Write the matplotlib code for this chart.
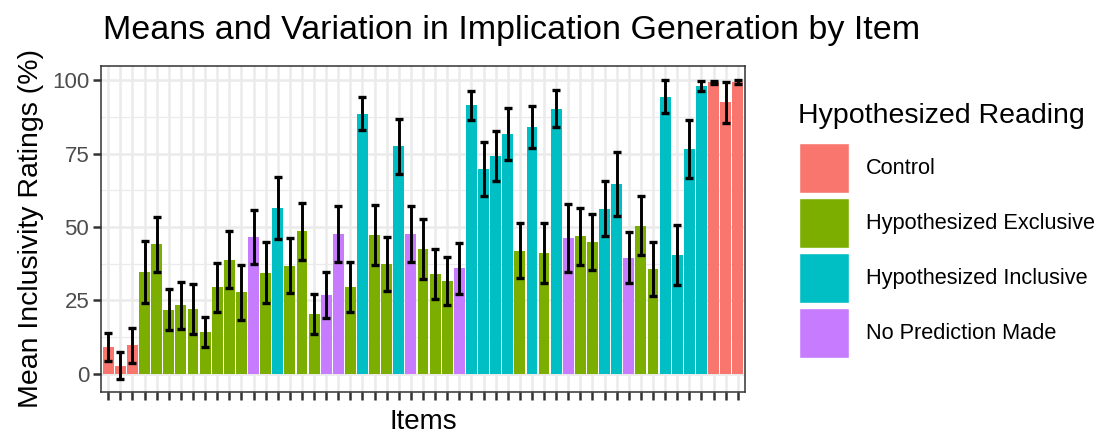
import matplotlib
matplotlib.use('Agg')
import matplotlib.pyplot as plt
import numpy as np
from matplotlib.patches import Patch

plt.rcParams['font.family'] = ['Liberation Sans', 'DejaVu Sans']

# item means (%) and error half-widths, in plotted order
means = [9.1, 2.7, 9.7, 34.7, 44.2, 21.8, 23.4, 22.2, 14.2, 29.5,
         38.8, 27.8, 46.6, 34.5, 56.6, 36.8, 48.6, 20.3, 26.9, 47.6,
         29.5, 88.6, 47.3, 37.5, 77.6, 47.7, 42.5, 34.1, 31.7, 35.9,
         91.5, 69.9, 74.3, 81.8, 42.0, 84.1, 41.1, 90.3, 46.3, 46.8,
         45.0, 56.3, 64.7, 39.5, 50.5, 35.7, 94.5, 40.5, 76.6, 98.1,
         99.4, 92.5, 99.4]
errs = [4.8, 4.6, 5.9, 10.6, 9.4, 7.0, 8.0, 8.5, 5.2, 8.3,
        9.7, 9.3, 9.2, 10.4, 10.5, 9.4, 9.7, 6.8, 7.8, 9.5,
        8.6, 5.6, 10.2, 9.2, 9.4, 9.5, 10.2, 8.6, 8.2, 8.7,
        5.0, 9.2, 8.5, 8.9, 9.4, 7.2, 10.2, 6.3, 11.6, 9.7,
        9.5, 9.3, 10.9, 8.7, 10.1, 9.3, 5.5, 10.2, 10.0, 1.7,
        0.5, 7.1, 0.6]
# C = Control, E = Exclusive, I = Inclusive, N = No Prediction
groups = list("CCCEEEEEEEEENEIEEENNEIEEINEEENIIIIEIEINEEIINEEIIIICCC")

categories = ['Control', 'Hypothesized Exclusive', 'Hypothesized Inclusive', 'No Prediction Made']
codes = ['C', 'E', 'I', 'N']
colors = ['#F8766D', '#7CAE00', '#00BFC4', '#C77CFF']
cmap = dict(zip(codes, colors))

x = np.arange(1, len(means) + 1)

fig = plt.figure(figsize=(11.01, 4.37), dpi=100)
ax = fig.add_axes([101/1101, 1 - 392/437, 644/1101, 326/437])

ax.bar(x, means, width=0.9, color=[cmap[g] for g in groups], zorder=2)
ax.errorbar(x, means, yerr=errs, fmt='none', ecolor='black', elinewidth=2.1,
            capsize=2.6, capthick=2.4, zorder=3)

ax.set_xlim(0.4, len(means) + 0.6)
ax.set_ylim(-6.2, 104.9)
ax.set_yticks([0, 25, 50, 75, 100])
ax.set_yticks([12.5, 37.5, 62.5, 87.5], minor=True)
ax.set_xticks(x)
ax.set_xticklabels([])
ax.grid(True, which='major', color='#EBEBEB', lw=1.8, zorder=0)
ax.grid(True, which='minor', axis='y', color='#EBEBEB', lw=0.9, zorder=0)
ax.set_axisbelow(True)
ax.tick_params(axis='both', which='major', length=5.5, width=1.8, color='#333333',
               labelsize=16, labelcolor='#4D4D4D', pad=3)
ax.tick_params(axis='y', which='minor', length=0)
for s in ax.spines.values():
    s.set_color('#333333')
    s.set_linewidth(1.1)

ax.set_xlabel('Items', fontsize=20, labelpad=4)
ax.set_ylabel('Mean Inclusivity Ratings (%)', fontsize=20.5, labelpad=6)

fig.text(103/1101, 1 - 39/437, 'Means and Variation in Implication Generation by Item',
         fontsize=24.5, va='baseline', ha='left')

# legend
fig.text(798/1101, 1 - 123/437, 'Hypothesized Reading', fontsize=20.5,
         va='baseline', ha='left')
handles = [Patch(facecolor=c, edgecolor='white', lw=1) for c in colors]
fig.legend(handles, categories, loc='upper left', bbox_to_anchor=(799/1101, 1 - 143/437),
           frameon=False, fontsize=15.7, handlelength=2.3, handleheight=3.15,
           labelspacing=0.23, handletextpad=0.78, borderpad=0, borderaxespad=0)

fig.savefig('out.png', dpi=100)
